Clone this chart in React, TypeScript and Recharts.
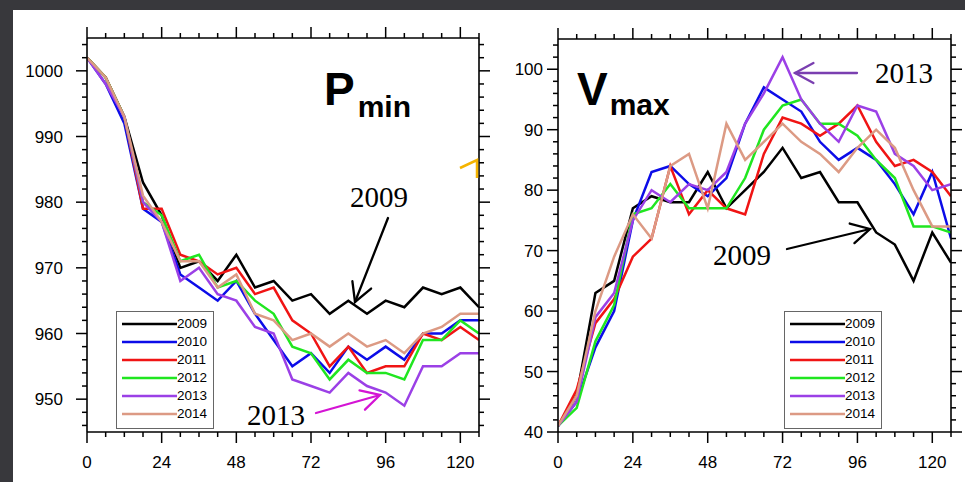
import React from 'react';
import { LineChart, Line, XAxis, YAxis, Legend } from 'recharts';

// forecast lead time (h)
const hours = [0, 6, 12, 18, 24, 30, 36, 42, 48, 54, 60, 66, 72, 78, 84, 90, 96, 102, 108, 114, 120, 126];
const years = ['2009', '2010', '2011', '2012', '2013', '2014'];
const colors = ['#000000', '#0c0ce8', '#f01414', '#20e620', '#9b40e6', '#dc9a84'];

// minimum pressure (hPa)
const pmin2009 = [1002, 999, 993, 983, 978, 970, 971, 968, 972, 967, 968, 965, 966, 963, 965, 963, 965, 964, 967, 966, 967, 964];
const pmin2010 = [1002, 998, 992, 979, 977, 969, 967, 965, 968, 963, 959, 955, 957, 954, 958, 956, 958, 956, 960, 960, 962, 962];
const pmin2011 = [1002, 999, 993, 979, 979, 972, 971, 969, 970, 966, 967, 962, 960, 955, 958, 954, 955, 955, 960, 959, 961, 959];
const pmin2012 = [1002, 999, 993, 980, 978, 971, 972, 967, 968, 965, 963, 958, 957, 953, 956, 954, 954, 953, 959, 959, 962, 960];
const pmin2013 = [1002, 998, 993, 980, 977, 968, 970, 966, 965, 961, 960, 953, 952, 951, 954, 952, 951, 949, 955, 955, 957, 957];
const pmin2014 = [1002, 999, 993, 981, 977, 971, 971, 967, 969, 963, 962, 959, 960, 958, 960, 958, 959, 957, 960, 961, 963, 963];

// maximum wind (kt)
const vmax2009 = [41, 46, 63, 65, 77, 79, 78, 78, 83, 77, 80, 83, 87, 82, 83, 78, 78, 73, 71, 65, 73, 68];
const vmax2010 = [41, 45, 54, 60, 75, 83, 84, 81, 79, 82, 91, 97, 95, 93, 88, 85, 87, 85, 81, 76, 83, 72];
const vmax2011 = [41, 47, 58, 62, 69, 72, 84, 76, 80, 77, 76, 86, 92, 91, 89, 91, 94, 88, 84, 85, 83, 79];
const vmax2012 = [41, 44, 55, 61, 76, 77, 81, 77, 77, 77, 82, 90, 94, 95, 91, 91, 89, 85, 82, 74, 74, 73];
const vmax2013 = [41, 45, 59, 63, 75, 80, 78, 81, 80, 83, 91, 96, 102, 95, 91, 88, 94, 93, 86, 84, 80, 81];
const vmax2014 = [41, 46, 60, 69, 76, 72, 84, 86, 77, 91, 85, 88, 91, 88, 86, 83, 87, 90, 87, 80, 74, 74];

const xMajor = [0, 24, 48, 72, 96, 120];
const pminMajor = [950, 960, 970, 980, 990, 1000];
const vmaxMajor = [40, 50, 60, 70, 80, 90, 100];

const range = (a: number, b: number, step: number) => {
  const out: number[] = [];
  for (let v = a; v <= b; v += step) out.push(v);
  return out;
};
const xMinor = range(0, 126, 6);
const pminMinor = range(946, 1004, 2);
const vmaxMinor = range(40, 104, 2);

const buildRows = (series: number[][]) =>
  hours.map((t, i) => {
    const row: Record<string, number> = { t };
    years.forEach((y, k) => (row[y] = series[k][i]));
    return row;
  });

const pminData = buildRows([pmin2009, pmin2010, pmin2011, pmin2012, pmin2013, pmin2014]);
const vmaxData = buildRows([vmax2009, vmax2010, vmax2011, vmax2012, vmax2013, vmax2014]);

const SANS = '"Liberation Sans", Arial, Helvetica, sans-serif';
const SERIF = '"Liberation Serif", "DejaVu Serif", serif';

const XTick = ({ x, y, payload, side }: any) => {
  const major = xMajor.includes(payload.value);
  const dir = side === 'top' ? -1 : 1;
  return (
    <g>
      <line x1={x} y1={y} x2={x} y2={y + dir * (major ? 11 : 5)} stroke="#000" strokeWidth={1.5} />
      {side === 'bottom' && major && (
        <text x={x} y={y + 36} textAnchor="middle" fontSize={17} fontFamily={SANS} fill="#000">
          {payload.value}
        </text>
      )}
    </g>
  );
};

const YTick = ({ x, y, payload, side, majors, gap }: any) => {
  const major = majors.includes(payload.value);
  const dir = side === 'right' ? 1 : -1;
  return (
    <g>
      <line x1={x} y1={y} x2={x + dir * (major ? 11 : 5)} y2={y} stroke="#000" strokeWidth={1.5} />
      {side === 'left' && major && (
        <text x={x - gap} y={y + 6} textAnchor="end" fontSize={17} fontFamily={SANS} fill="#000">
          {payload.value}
        </text>
      )}
    </g>
  );
};

const LegendBox = ({ payload }: any) => (
  <div
    style={{
      width: 98,
      height: 118,
      boxSizing: 'border-box',
      border: '1.5px solid #666',
      background: '#fff',
      paddingTop: 3,
    }}
  >
    {(payload || []).map((p: any) => (
      <div key={p.value} style={{ display: 'flex', alignItems: 'center', height: 18, marginLeft: 5 }}>
        <svg width={55} height={6}>
          <line x1={0} y1={3} x2={55} y2={3} stroke={p.color} strokeWidth={2.5} />
        </svg>
        <span style={{ fontFamily: SANS, fontSize: 13.5, color: '#000', lineHeight: '18px' }}>{p.value}</span>
      </div>
    ))}
  </div>
);

const axisLine = { stroke: '#000', strokeWidth: 1.6 };

function Panel({ data, domain, majors, minors, leftW, rightW, width, gap, top, legendLeft }: any) {
  return (
    <LineChart width={width} height={482} data={data} margin={{ top: 0, right: 0, bottom: 0, left: 0 }}>
      <XAxis
        xAxisId="b"
        dataKey="t"
        type="number"
        domain={[0, 126]}
        allowDataOverflow
        ticks={xMinor}
        interval={0}
        height={50}
        tickSize={0}
        tickMargin={0}
        tickLine={false}
        axisLine={axisLine}
        tick={(p: any) => <XTick {...p} side="bottom" />}
      />
      <XAxis
        xAxisId="t"
        orientation="top"
        dataKey="t"
        type="number"
        domain={[0, 126]}
        allowDataOverflow
        ticks={xMinor}
        interval={0}
        height={top}
        tickSize={0}
        tickMargin={0}
        tickLine={false}
        axisLine={axisLine}
        tick={(p: any) => <XTick {...p} side="top" />}
      />
      <YAxis
        yAxisId="l"
        type="number"
        domain={domain}
        allowDataOverflow
        ticks={minors}
        interval={0}
        width={leftW}
        tickSize={0}
        tickMargin={0}
        tickLine={false}
        axisLine={axisLine}
        tick={(p: any) => <YTick {...p} side="left" majors={majors} gap={gap} />}
      />
      <YAxis
        yAxisId="r"
        orientation="right"
        type="number"
        domain={domain}
        allowDataOverflow
        ticks={minors}
        interval={0}
        width={rightW}
        tickSize={0}
        tickMargin={0}
        tickLine={false}
        axisLine={axisLine}
        tick={(p: any) => <YTick {...p} side="right" majors={majors} gap={gap} />}
      />
      {years.map((y, k) => (
        <Line
          key={y}
          xAxisId="b"
          yAxisId="l"
          type="linear"
          dataKey={y}
          name={y}
          stroke={colors[k]}
          strokeWidth={2.5}
          dot={false}
          isAnimationActive={false}
        />
      ))}
      <Legend
        layout="vertical"
        align="center"
        verticalAlign="middle"
        content={<LegendBox />}
        wrapperStyle={{ position: 'absolute', left: legendLeft, top: 311, width: 98, height: 118 }}
      />
    </LineChart>
  );
}

const Arrow = ({ x1, y1, x2, y2, color }: any) => {
  const a = Math.atan2(y2 - y1, x2 - x1);
  const len = 21;
  const spread = 0.5;
  const h1 = [x2 - len * Math.cos(a - spread), y2 - len * Math.sin(a - spread)];
  const h2 = [x2 - len * Math.cos(a + spread), y2 - len * Math.sin(a + spread)];
  return (
    <g stroke={color} strokeWidth={2.3} fill="none" strokeLinecap="round">
      <line x1={x1} y1={y1} x2={x2} y2={y2} />
      <polyline points={`${h1[0]},${h1[1]} ${x2},${y2} ${h2[0]},${h2[1]}`} />
    </g>
  );
};

export default function App() {
  return (
    <div style={{ position: 'absolute', left: 0, top: 0, width: 965, height: 482, background: '#fff', overflow: 'hidden' }}>
      <div style={{ position: 'absolute', left: 0, top: 0, width: 490, height: 482 }}>
        <Panel
          data={pminData}
          domain={[945, 1005]}
          majors={pminMajor}
          minors={pminMinor}
          leftW={87}
          rightW={11}
          width={490}
          gap={24}
          top={38}
          legendLeft={116}
        />
      </div>
      <div style={{ position: 'absolute', left: 490, top: 0, width: 475, height: 482 }}>
        <Panel
          data={vmaxData}
          domain={[40, 105]}
          majors={vmaxMajor}
          minors={vmaxMinor}
          leftW={68}
          rightW={14}
          width={475}
          gap={15}
          top={39}
          legendLeft={294}
        />
      </div>
      <svg width={965} height={482} style={{ position: 'absolute', left: 0, top: 0, pointerEvents: 'none' }}>
        <text x={324} y={105} fontFamily={SANS} fontWeight="bold" fontSize={46} fill="#000">
          P
          <tspan fontSize={30} dx={3} dy={12}>min</tspan>
        </text>
        <text x={577} y={105} fontFamily={SANS} fontWeight="bold" fontSize={46} fill="#000">
          V
          <tspan fontSize={30} dx={2} dy={10}>max</tspan>
        </text>
        <text x={350} y={207} fontFamily={SERIF} fontSize={29} fill="#000">2009</text>
        <Arrow x1={388} y1={218} x2={355} y2={302} color="#000" />
        <text x={247} y={425} fontFamily={SERIF} fontSize={29} fill="#000">2013</text>
        <Arrow x1={316} y1={413} x2={380} y2={395} color="#d414d4" />
        <text x={875} y={83} fontFamily={SERIF} fontSize={29} fill="#000">2013</text>
        <Arrow x1={857} y1={73} x2={795} y2={73} color="#7a3fb0" />
        <text x={713} y={265} fontFamily={SERIF} fontSize={29} fill="#000">2009</text>
        <Arrow x1={787} y1={249} x2={870} y2={229} color="#000" />
        <polyline points="460,168 477,160 477,178" stroke="#f5b400" strokeWidth={2.5} fill="none" />
      </svg>
      <div style={{ position: 'absolute', left: 0, top: 0, width: 13, height: 482, background: '#38383c' }} />
      <div style={{ position: 'absolute', left: 0, top: 0, width: 965, height: 10, background: '#38383c' }} />
    </div>
  );
}
